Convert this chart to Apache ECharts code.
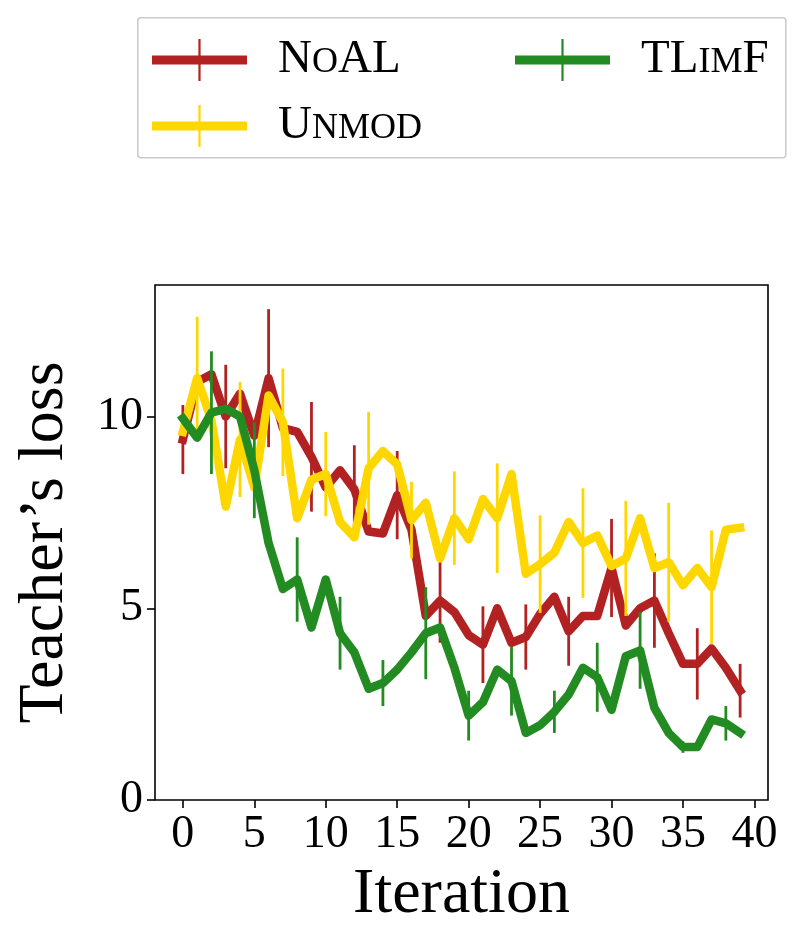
<!DOCTYPE html>
<html>
<head>
<meta charset="utf-8">
<title>Teacher's loss</title>
<script src="https://cdn.jsdelivr.net/npm/echarts@6/dist/echarts.min.js"></script>
<style>
  html, body { margin: 0; padding: 0; background: #fff; }
  #chart { width: 804px; height: 948px; }
</style>
</head>
<body>
<div id="chart"></div>
<script>
// iteration index 0..39
const iterations = Array.from({ length: 40 }, (_, i) => i);

const noalLoss = [9.4, 10.9, 11.1, 10.0, 10.6, 9.5, 11.0, 9.7, 9.6, 8.95,
  8.15, 8.6, 8.1, 7.0, 6.95, 7.95, 7.05, 4.8, 5.2, 4.9,
  4.3, 4.05, 5.0, 4.1, 4.25, 4.85, 5.3, 4.4, 4.8, 4.8,
  6.05, 4.55, 5.0, 5.2, 4.35, 3.55, 3.55, 3.95, 3.45, 2.85];
const unmodLoss = [9.6, 11.0, 9.9, 7.65, 9.4, 8.15, 10.55, 9.85, 7.35, 8.35,
  8.5, 7.25, 6.85, 8.65, 9.1, 8.75, 7.3, 7.75, 6.3, 7.35,
  6.8, 7.85, 7.35, 8.5, 5.9, 6.15, 6.45, 7.25, 6.7, 6.9,
  6.1, 6.3, 7.35, 6.05, 6.2, 5.6, 6.05, 5.55, 7.05, 7.1];
const tlimfLoss = [9.95, 9.45, 10.1, 10.2, 10.0, 8.6, 6.7, 5.5, 5.75, 4.5,
  5.75, 4.35, 3.85, 2.9, 3.05, 3.4, 3.85, 4.35, 4.5, 3.45,
  2.2, 2.55, 3.4, 3.1, 1.75, 1.95, 2.3, 2.75, 3.45, 3.2,
  2.35, 3.75, 3.9, 2.4, 1.75, 1.38, 1.38, 2.1, 2.0, 1.75];

// error bars are drawn every 3rd point, each series with its own offset
const errStep = 3;
const noalErrStart = 0;
const noalErr = [0.9, 1.35, 1.8, 1.43, 1.15, 1.15, 1.1, 1.0, 0.85, 0.9, 1.28, 1.23, 0.93, 0.7];
const unmodErrStart = 1;
const unmodErr = [1.6, 1.5, 1.4, 1.1, 1.47, 1.0, 1.22, 1.43, 1.27, 1.43, 1.5, 1.55, 1.48];
const tlimfErrStart = 2;
const tlimfErr = [1.6, 1.25, 1.1, 0.95, 0.6, 1.2, 0.65, 0.9, 0.55, 0.9, 1.0, 0.15, 0.45];

const xTicks = [0, 5, 10, 15, 20, 25, 30, 35, 40];
const yTicks = [0, 5, 10];

const RED = '#B22222';
const GOLD = '#FFD700';
const GREEN = '#228B22';
const FONT = '"Liberation Serif", "Times New Roman", serif';

function errData(values, errs, start) {
  return errs.map((e, k) => {
    const i = start + k * errStep;
    return [iterations[i], values[i] - e, values[i] + e];
  });
}

function lineSeries(name, values, color, z) {
  return {
    name: name,
    type: 'line',
    data: iterations.map((x, i) => [x, values[i]]),
    showSymbol: false,
    symbol: 'none',
    z: z,
    itemStyle: { color: color },
    lineStyle: { color: color, width: 8.5, join: 'round', cap: 'square' },
    emphasis: { disabled: true },
    animation: false
  };
}

function errSeries(name, data, color, z) {
  return {
    name: name,
    type: 'custom',
    data: data,
    z: z,
    encode: { x: 0, y: [1, 2] },
    renderItem: function (params, api) {
      const p1 = api.coord([api.value(0), api.value(1)]);
      const p2 = api.coord([api.value(0), api.value(2)]);
      return {
        type: 'line',
        shape: { x1: p1[0], y1: p1[1], x2: p2[0], y2: p2[1] },
        style: { stroke: color, lineWidth: 2.8 }
      };
    },
    animation: false
  };
}

const legendIcon = 'path://M0,16.5L95,16.5L95,25.5L0,25.5Z M46.4,0L48.6,0L48.6,42L46.4,42Z';
const legendLabels = {
  'NoAL': '{c|N}{s|O}{c|AL}',
  'Unmod': '{c|U}{s|NMOD}',
  'TLimF': '{c|TL}{s|IM}{c|F}'
};
function legendBase(names, left) {
  return {
    data: names,
    orient: 'vertical',
    left: left,
    top: 31,
    icon: legendIcon,
    itemWidth: 95,
    itemHeight: 42,
    itemGap: 19,
    selectedMode: false,
    itemStyle: { borderWidth: 0 },
    formatter: name => legendLabels[name],
    textStyle: {
      color: '#000',
      padding: [0, 0, 0, 26],
      rich: {
        c: { fontFamily: FONT, fontSize: 47, lineHeight: 46, verticalAlign: 'bottom', color: '#000' },
        s: { fontFamily: FONT, fontSize: 36, lineHeight: 36, verticalAlign: 'bottom', color: '#000', padding: [0, 0, 2, 0] }
      }
    }
  };
}

const chart = echarts.init(document.getElementById('chart'));
chart.setOption({
  backgroundColor: '#fff',
  animation: false,
  graphic: [{
    type: 'rect',
    left: 137,
    top: 17,
    shape: { width: 648, height: 140, r: 3 },
    style: { fill: '#fff', stroke: '#cccccc', lineWidth: 1.6 },
    z: -1
  }],
  legend: [
    legendBase(['NoAL', 'Unmod'], 147),
    legendBase(['TLimF'], 510)
  ],
  grid: {
    left: 155, right: 36, top: 285, bottom: 148,
    show: true, borderColor: '#000', borderWidth: 1.6,
    containLabel: false, outerBoundsMode: 'none'
  },
  xAxis: {
    type: 'value',
    min: -1.95,
    max: 40.95,
    name: 'Iteration',
    nameLocation: 'middle',
    nameGap: 56,
    nameTextStyle: { fontFamily: FONT, fontSize: 64, color: '#000' },
    axisLine: { show: false, onZero: false },
    splitLine: { show: false },
    axisTick: { show: true, length: 8, customValues: xTicks, lineStyle: { color: '#000', width: 1.6 } },
    axisLabel: { customValues: xTicks, margin: 12, fontFamily: FONT, fontSize: 46, color: '#000' }
  },
  yAxis: {
    type: 'value',
    min: 0,
    max: 13.43,
    name: 'Teacher’s loss',
    nameLocation: 'middle',
    nameGap: 78,
    nameTextStyle: { fontFamily: FONT, fontSize: 64, color: '#000' },
    axisLine: { show: false, onZero: false },
    splitLine: { show: false },
    axisTick: { show: true, length: 8, customValues: yTicks, lineStyle: { color: '#000', width: 1.6 } },
    axisLabel: { customValues: yTicks, margin: 12, fontFamily: FONT, fontSize: 46, color: '#000' }
  },
  series: [
    errSeries('NoAL err', errData(noalLoss, noalErr, noalErrStart), RED, 2),
    lineSeries('NoAL', noalLoss, RED, 3),
    errSeries('Unmod err', errData(unmodLoss, unmodErr, unmodErrStart), GOLD, 4),
    lineSeries('Unmod', unmodLoss, GOLD, 5),
    errSeries('TLimF err', errData(tlimfLoss, tlimfErr, tlimfErrStart), GREEN, 6),
    lineSeries('TLimF', tlimfLoss, GREEN, 7)
  ]
});
</script>
</body>
</html>
